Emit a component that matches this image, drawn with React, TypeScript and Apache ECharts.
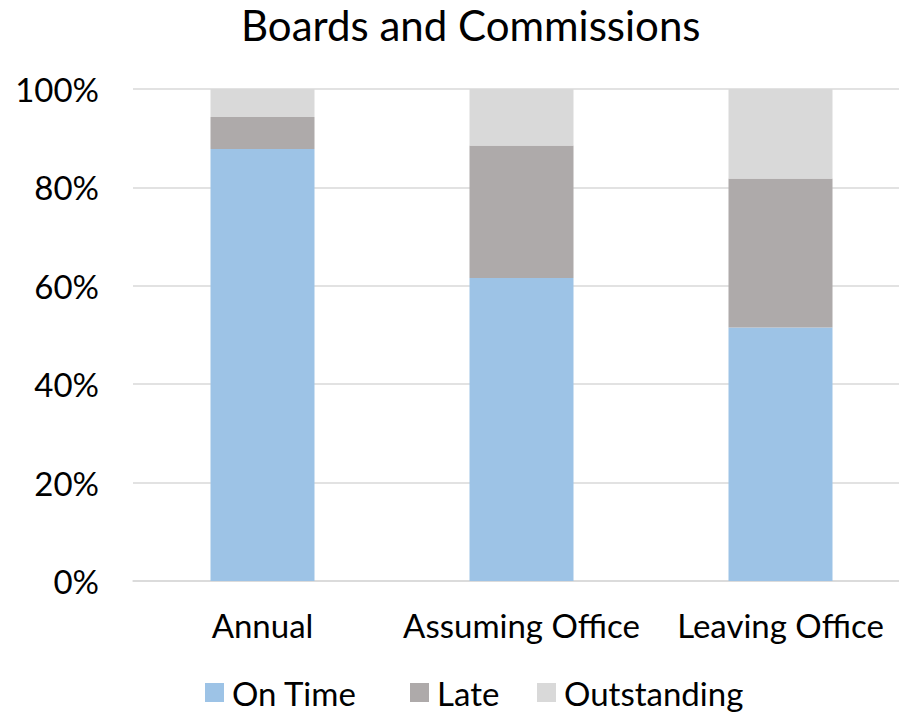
import React, { useEffect, useRef } from "react";
import * as echarts from "echarts";

const categories = ["Annual", "Assuming Office", "Leaving Office"];
const onTime = [87.8, 61.6, 51.5];
const late = [6.5, 26.9, 30.3];
const outstanding = [5.7, 11.5, 18.2];
const yTicks = { min: 0, max: 100, interval: 20 };
const seriesNames = ["On Time", "Late", "Outstanding"];
const seriesColors = ["#9dc3e6", "#aeaaaa", "#d9d9d9"];

const FONT = "Lato";

export default function App() {
  const ref = useRef<HTMLDivElement>(null);
  useEffect(() => {
    if (!ref.current) return;
    const chart = echarts.init(ref.current, null, { renderer: "svg" });
    const legendLefts = [205, 410, 537];
    chart.setOption({
      animation: false,
      backgroundColor: "#ffffff",
      textStyle: { fontFamily: FONT, color: "#000" },
      title: {
        text: "Boards and Commissions",
        left: 241,
        top: 4,
        padding: 0,
        textStyle: { fontFamily: FONT, fontSize: 42, fontWeight: "normal", color: "#000" },
      },
      legend: seriesNames.map((n, i) => ({
        left: legendLefts[i],
        top: 676,
        padding: 0,
        itemWidth: 19,
        itemHeight: 19,
        icon: "rect",
        textStyle: { fontFamily: FONT, fontSize: 33, color: "#000", padding: [0, 0, 0, 3] },
        data: [n],
      })),
      grid: { left: 133, right: 10, top: 89, bottom: 134, containLabel: false },
      xAxis: {
        type: "category",
        data: categories,
        axisLine: { lineStyle: { color: "#d9d9d9", width: 1.5 } },
        axisTick: { show: false },
        axisLabel: { fontFamily: FONT, fontSize: 33, color: "#000", margin: 27, interval: 0 },
      },
      yAxis: {
        type: "value",
        min: yTicks.min,
        max: yTicks.max,
        interval: yTicks.interval,
        axisLine: { show: false },
        axisTick: { show: false },
        splitLine: { lineStyle: { color: "#d9d9d9", width: 1.5 } },
        axisLabel: { fontFamily: FONT, fontSize: 33, color: "#000", margin: 34, formatter: "{value}%" },
      },
      series: [
        { name: seriesNames[0], type: "bar", stack: "s", data: onTime, barWidth: 104, itemStyle: { color: seriesColors[0] } },
        { name: seriesNames[1], type: "bar", stack: "s", data: late, barWidth: 104, itemStyle: { color: seriesColors[1] } },
        { name: seriesNames[2], type: "bar", stack: "s", data: outstanding, barWidth: 104, itemStyle: { color: seriesColors[2] } },
      ],
    });
    return () => chart.dispose();
  }, []);
  return (
    <div style={{ position: "fixed", left: 0, top: 0, width: 899, height: 715, overflow: "hidden", background: "#fff" }}>
      <div ref={ref} style={{ position: "absolute", left: 0, top: 0, width: 920, height: 715 }} />
    </div>
  );
}
